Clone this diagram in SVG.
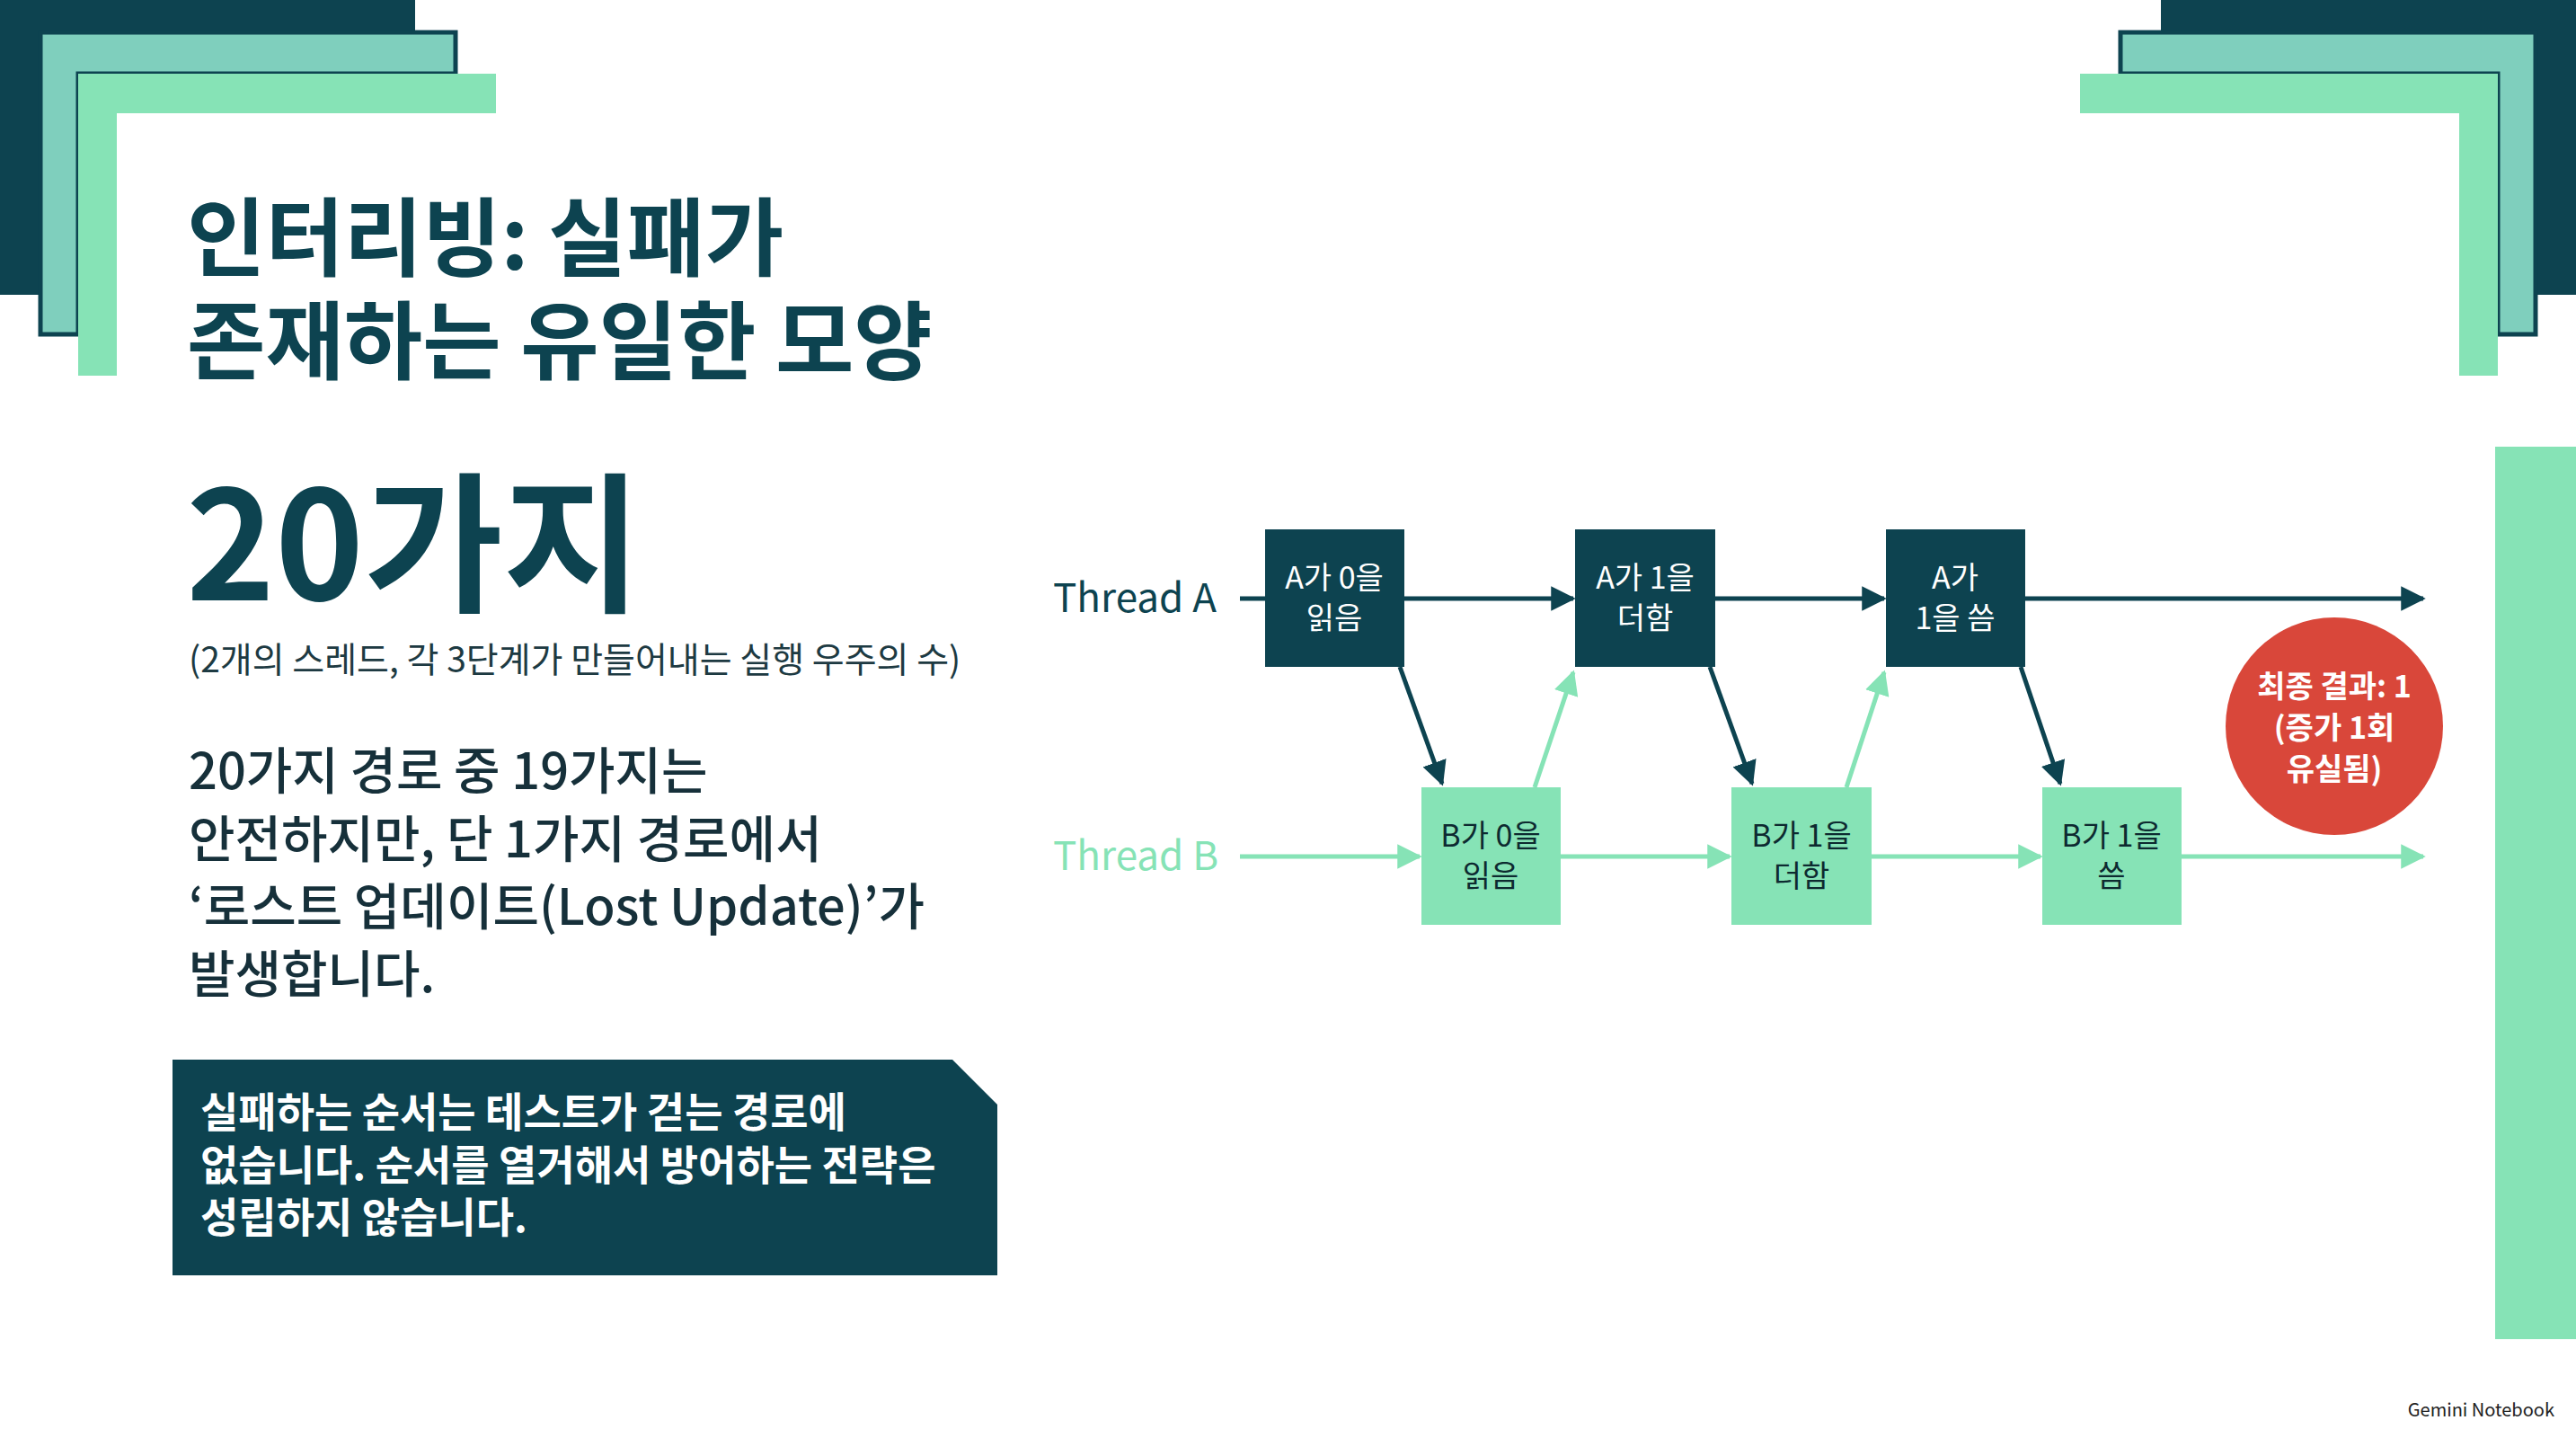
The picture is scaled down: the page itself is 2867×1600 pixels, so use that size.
<svg xmlns="http://www.w3.org/2000/svg" width="2867" height="1600" viewBox="0 0 2867 1600">
<style>
.dk{fill:#0d4350}.tl{fill:#7fcfbd;stroke:#0d4350;stroke-width:5}.mt{fill:#86e3b6}
.t{font-family:"Noto Sans CJK KR","Noto Sans",sans-serif}
.bx{font-family:"Noto Sans CJK KR","Noto Sans",sans-serif;font-size:34px;text-anchor:middle}
.la{stroke:#0d4350;stroke-width:5;fill:none;marker-end:url(#ha)}
.lb{stroke:#86e3b6;stroke-width:5;fill:none;marker-end:url(#hb)}
</style>
<defs>
<marker id="ha" viewBox="0 0 10 10" refX="9" refY="5" markerWidth="5.5" markerHeight="5.5" orient="auto"><path d="M0,0L10,5L0,10z" fill="#0d4350"/></marker>
<marker id="hb" viewBox="0 0 10 10" refX="9" refY="5" markerWidth="5.5" markerHeight="5.5" orient="auto"><path d="M0,0L10,5L0,10z" fill="#86e3b6"/></marker>
<g id="corner">
<polygon class="dk" points="0,0 462,0 462,36 45,36 45,328 0,328"/>
<polygon class="tl" points="45,36 507,36 507,82 87,82 87,372 45,372"/>
<polygon class="mt" points="87,82 552,82 552,126 130,126 130,418 87,418"/>
</g>
</defs>
<rect width="2867" height="1600" fill="#ffffff"/>
<use href="#corner"/>
<use href="#corner" transform="translate(2867,0) scale(-1,1)"/>
<rect x="2777" y="497" width="90" height="993" fill="#86e3b6"/>

<g id="title" class="t" fill="#0d4350" font-weight="bold" font-size="95">
<text x="208" y="300">인터리빙: 실패가</text>
<text x="208" y="415">존재하는 유일한 모양</text>
</g>
<g id="count" class="t" fill="#0d4350">
<text x="207" y="668" font-size="168" font-weight="bold">20가지</text>
<text x="210" y="748" font-size="39" fill="#1d3a42">(2개의 스레드, 각 3단계가 만들어내는 실행 우주의 수)</text>
</g>
<g id="para" class="t" fill="#16303a" font-size="56" font-weight="500">
<text x="210" y="878">20가지 경로 중 19가지는</text>
<text x="210" y="954">안전하지만, 단 1가지 경로에서</text>
<text x="210" y="1029">‘로스트 업데이트(Lost Update)’가</text>
<text x="210" y="1104">발생합니다.</text>
</g>
<g id="note">
<polygon class="dk" points="192,1179 1060,1179 1110,1229 1110,1419 192,1419"/>
<g class="t" fill="#ffffff" font-weight="bold" font-size="46">
<text x="223" y="1254">실패하는 순서는 테스트가 걷는 경로에</text>
<text x="223" y="1313">없습니다. 순서를 열거해서 방어하는 전략은</text>
<text x="223" y="1371">성립하지 않습니다.</text>
</g>
</g>

<g id="connectors">
<line x1="1380" y1="666" x2="1408" y2="666" stroke="#0d4350" stroke-width="5"/>
<line class="la" x1="1563" y1="666" x2="1751" y2="666"/>
<line class="la" x1="1909" y1="666" x2="2097" y2="666"/>
<line class="la" x1="2254" y1="666" x2="2697" y2="666"/>
<line class="lb" x1="1380" y1="953" x2="1580" y2="953"/>
<line class="lb" x1="1737" y1="953" x2="1925" y2="953"/>
<line class="lb" x1="2083" y1="953" x2="2271" y2="953"/>
<line class="lb" x1="2428" y1="953" x2="2697" y2="953"/>
<line class="la" x1="1558" y1="742" x2="1605" y2="872"/>
<line class="la" x1="1903" y1="742" x2="1950" y2="872"/>
<line class="la" x1="2249" y1="742" x2="2293" y2="872"/>
<line class="lb" x1="1708" y1="876" x2="1751" y2="748"/>
<line class="lb" x1="2055" y1="876" x2="2097" y2="748"/>
</g>

<text id="labelA" class="t" x="1172" y="681" font-size="44" fill="#0d4350">Thread A</text>
<text id="labelB" class="t" x="1172" y="968" font-size="44" fill="#86e3b6">Thread B</text>

<g id="a1"><rect class="dk" x="1408" y="589" width="155" height="153"/><text class="bx" fill="#fff" x="1485" y="655">A가 0을</text><text class="bx" fill="#fff" x="1485" y="700">읽음</text></g>
<g id="a2"><rect class="dk" x="1753" y="589" width="156" height="153"/><text class="bx" fill="#fff" x="1831" y="655">A가 1을</text><text class="bx" fill="#fff" x="1831" y="700">더함</text></g>
<g id="a3"><rect class="dk" x="2099" y="589" width="155" height="153"/><text class="bx" fill="#fff" x="2176" y="655">A가</text><text class="bx" fill="#fff" x="2176" y="700">1을 씀</text></g>
<g id="b1"><rect class="mt" x="1582" y="876" width="155" height="153"/><text class="bx" fill="#0d2a30" x="1659" y="942">B가 0을</text><text class="bx" fill="#0d2a30" x="1659" y="987">읽음</text></g>
<g id="b2"><rect class="mt" x="1927" y="876" width="156" height="153"/><text class="bx" fill="#0d2a30" x="2005" y="942">B가 1을</text><text class="bx" fill="#0d2a30" x="2005" y="987">더함</text></g>
<g id="b3"><rect class="mt" x="2273" y="876" width="155" height="153"/><text class="bx" fill="#0d2a30" x="2350" y="942">B가 1을</text><text class="bx" fill="#0d2a30" x="2350" y="987">씀</text></g>

<g id="result">
<circle cx="2598" cy="808" r="121" fill="#d9473a"/>
<g class="t" fill="#fff" font-weight="bold" font-size="34" text-anchor="middle">
<text x="2598" y="776">최종 결과: 1</text>
<text x="2598" y="822">(증가 1회</text>
<text x="2598" y="868">유실됨)</text>
</g>
</g>
<text id="wm" class="t" x="2843" y="1576" font-size="20" text-anchor="end" fill="#222">Gemini Notebook</text>
</svg>
